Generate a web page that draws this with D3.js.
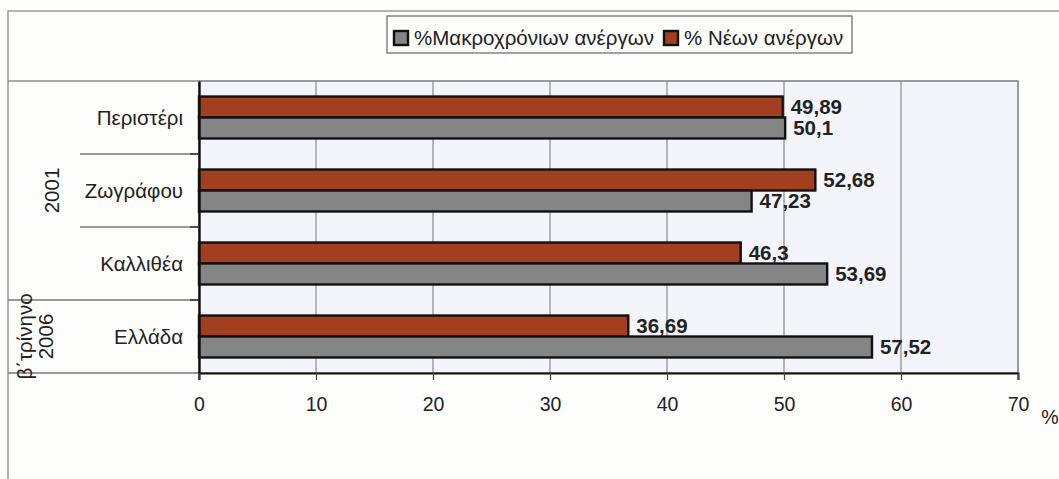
<!DOCTYPE html>
<html><head><meta charset="utf-8">
<script src="https://cdn.jsdelivr.net/npm/d3@7"></script>
<style>
html,body{margin:0;padding:0;background:#fdfdfb;}
svg{display:block;}
text{font-family:"Liberation Sans",Arial,sans-serif;fill:#222;}
</style></head>
<body>
<svg id="chart" width="1059" height="479"></svg>
<script>
const categories = ["Περιστέρι","Ζωγράφου","Καλλιθέα","Ελλάδα"];
const groups = [
  {label:["2001"], members:["Περιστέρι","Ζωγράφου","Καλλιθέα"]},
  {label:["β΄τρίνηνο","2006"], members:["Ελλάδα"]}
];
const seriesNames = ["%Μακροχρόνιων ανέργων","% Νέων ανέργων"];
const longTerm = [50.1, 47.23, 53.69, 57.52];
const newUnemp = [49.89, 52.68, 46.3, 36.69];
const xTicks = [0,10,20,30,40,50,60,70];
const axisUnit = "%";

const colors = {long:"#858585", nw:"#a13f1e"};
const svg = d3.select("#chart");
const W = 1059, H = 479;
const plot = {l:199, r:1018, t:81, b:373};
const fmt = v => String(v).replace(".", ",");

// outer frame
svg.append("rect").attr("x",8).attr("y",11).attr("width",W+20).attr("height",H+20)
  .attr("fill","#fdfdfb").attr("stroke","#9a9a9a").attr("stroke-width",1.5);

const x = d3.scaleLinear().domain([0,70]).range([plot.l, plot.r]);
const y = d3.scaleBand().domain(categories).range([plot.t, plot.b]).paddingInner(0).paddingOuter(0);
const y1 = d3.scaleBand().domain(["nw","long"]).range([0, y.bandwidth()]).paddingInner(0).paddingOuter(0.74);

// plot area
svg.append("rect").attr("x",plot.l).attr("y",plot.t).attr("width",plot.r-plot.l).attr("height",plot.b-plot.t)
  .attr("fill","#f4f5fa").attr("stroke","#7a7a7a").attr("stroke-width",1.5);

// gridlines
svg.append("g").selectAll("line").data(xTicks.filter(d=>d>0 && d<70)).join("line")
  .attr("x1",d=>x(d)).attr("x2",d=>x(d)).attr("y1",plot.t).attr("y2",plot.b)
  .attr("stroke","#8a8a8a").attr("stroke-width",1.2);

// category separator lines
svg.append("line").attr("x1",8).attr("x2",plot.l).attr("y1",plot.t).attr("y2",plot.t)
  .attr("stroke","#8c8c8c").attr("stroke-width",1.5);
categories.forEach((c,i)=>{
  if(i===0) return;
  const yy = y(c);
  const isGroupStart = groups.some(g=>g.members[0]===c);
  svg.append("line").attr("x1",isGroupStart?8:80).attr("x2",plot.l).attr("y1",yy).attr("y2",yy)
    .attr("stroke","#777").attr("stroke-width",1.5);
});
svg.append("line").attr("x1",8).attr("x2",plot.l).attr("y1",plot.b).attr("y2",plot.b)
  .attr("stroke","#777").attr("stroke-width",1.5);

// bars
const rows = categories.map((c,i)=>({cat:c, nw:newUnemp[i], long:longTerm[i]}));
const gBars = svg.append("g");
rows.forEach(r=>{
  ["nw","long"].forEach(k=>{
    const by = y(r.cat)+y1(k);
    gBars.append("rect").attr("x",x(0)).attr("y",by)
      .attr("width",x(r[k])-x(0)).attr("height",y1.bandwidth())
      .attr("fill",colors[k]).attr("stroke","#111").attr("stroke-width",2.4);
    gBars.append("text").attr("x",x(r[k])+8).attr("y",by+y1.bandwidth()/2)
      .attr("dy","0.36em").attr("font-size",20.5).attr("font-weight","bold").attr("fill","#1a1a1a")
      .text(fmt(r[k]));
  });
});

// axes
const xAxis = d3.axisBottom(x).tickValues(xTicks).tickSize(7).tickPadding(17).tickFormat(d=>String(d));
const gx = svg.append("g").attr("transform",`translate(0,${plot.b})`).call(xAxis);
gx.select(".domain").attr("stroke","#111").attr("stroke-width",2);
gx.selectAll(".tick line").attr("stroke","#444").attr("stroke-width",1.2);
gx.selectAll(".tick text").attr("font-size",19.5).attr("fill","#222")
  .style("font-family",'"Liberation Sans",Arial,sans-serif');
svg.append("text").attr("x",1050).attr("y",424).attr("font-size",19.5).attr("text-anchor","middle").text(axisUnit);

const yAxis = d3.axisLeft(y).tickSize(0).tickFormat(()=>"" );
const gy = svg.append("g").attr("transform",`translate(${plot.l},0)`).call(yAxis);
gy.select(".domain").attr("stroke","#111").attr("stroke-width",2.4);
// small boundary ticks
svg.append("g").selectAll("line").data(categories.slice(1)).join("line")
  .attr("x1",plot.l-9).attr("x2",plot.l).attr("y1",d=>y(d)).attr("y2",d=>y(d))
  .attr("stroke","#333").attr("stroke-width",1.5);
svg.append("line").attr("x1",plot.l).attr("x2",plot.l).attr("y1",plot.b).attr("y2",plot.b+7)
  .attr("stroke","#333").attr("stroke-width",1.5);

// category labels
svg.append("g").selectAll("text").data(categories).join("text")
  .attr("x",183).attr("y",d=>y(d)+y.bandwidth()/2).attr("dy","0.36em")
  .attr("text-anchor","end").attr("font-size",20.5).text(d=>d);

// group labels
groups.forEach(g=>{
  const y0 = y(g.members[0]);
  const yEnd = y(g.members[g.members.length-1]) + y.bandwidth();
  const cy = (y0+yEnd)/2;
  const n = g.label.length;
  g.label.forEach((t,j)=>{
    const cx = n===1 ? 52 : (j===0 ? 25 : 46);
    svg.append("text").attr("transform",`translate(${cx},${cy}) rotate(-90)`)
      .attr("text-anchor","middle").attr("dy","0.36em").attr("font-size",20.5).text(t);
  });
});

// legend
const lg = svg.append("g");
lg.append("rect").attr("x",387).attr("y",16).attr("width",465).attr("height",37)
  .attr("fill","#fdfdfb").attr("stroke","#666").attr("stroke-width",1.2);
const legendItems = [{name:seriesNames[0], color:colors.long, x:393},{name:seriesNames[1], color:colors.nw, x:663}];
legendItems.forEach(it=>{
  lg.append("rect").attr("x",it.x+1).attr("y",31).attr("width",14).attr("height",14)
    .attr("fill",it.color).attr("stroke","#111").attr("stroke-width",2.4);
  lg.append("text").attr("x",it.x+21).attr("y",38).attr("dy","0.36em").attr("font-size",20.5).text(it.name);
});
</script>
</body></html>
